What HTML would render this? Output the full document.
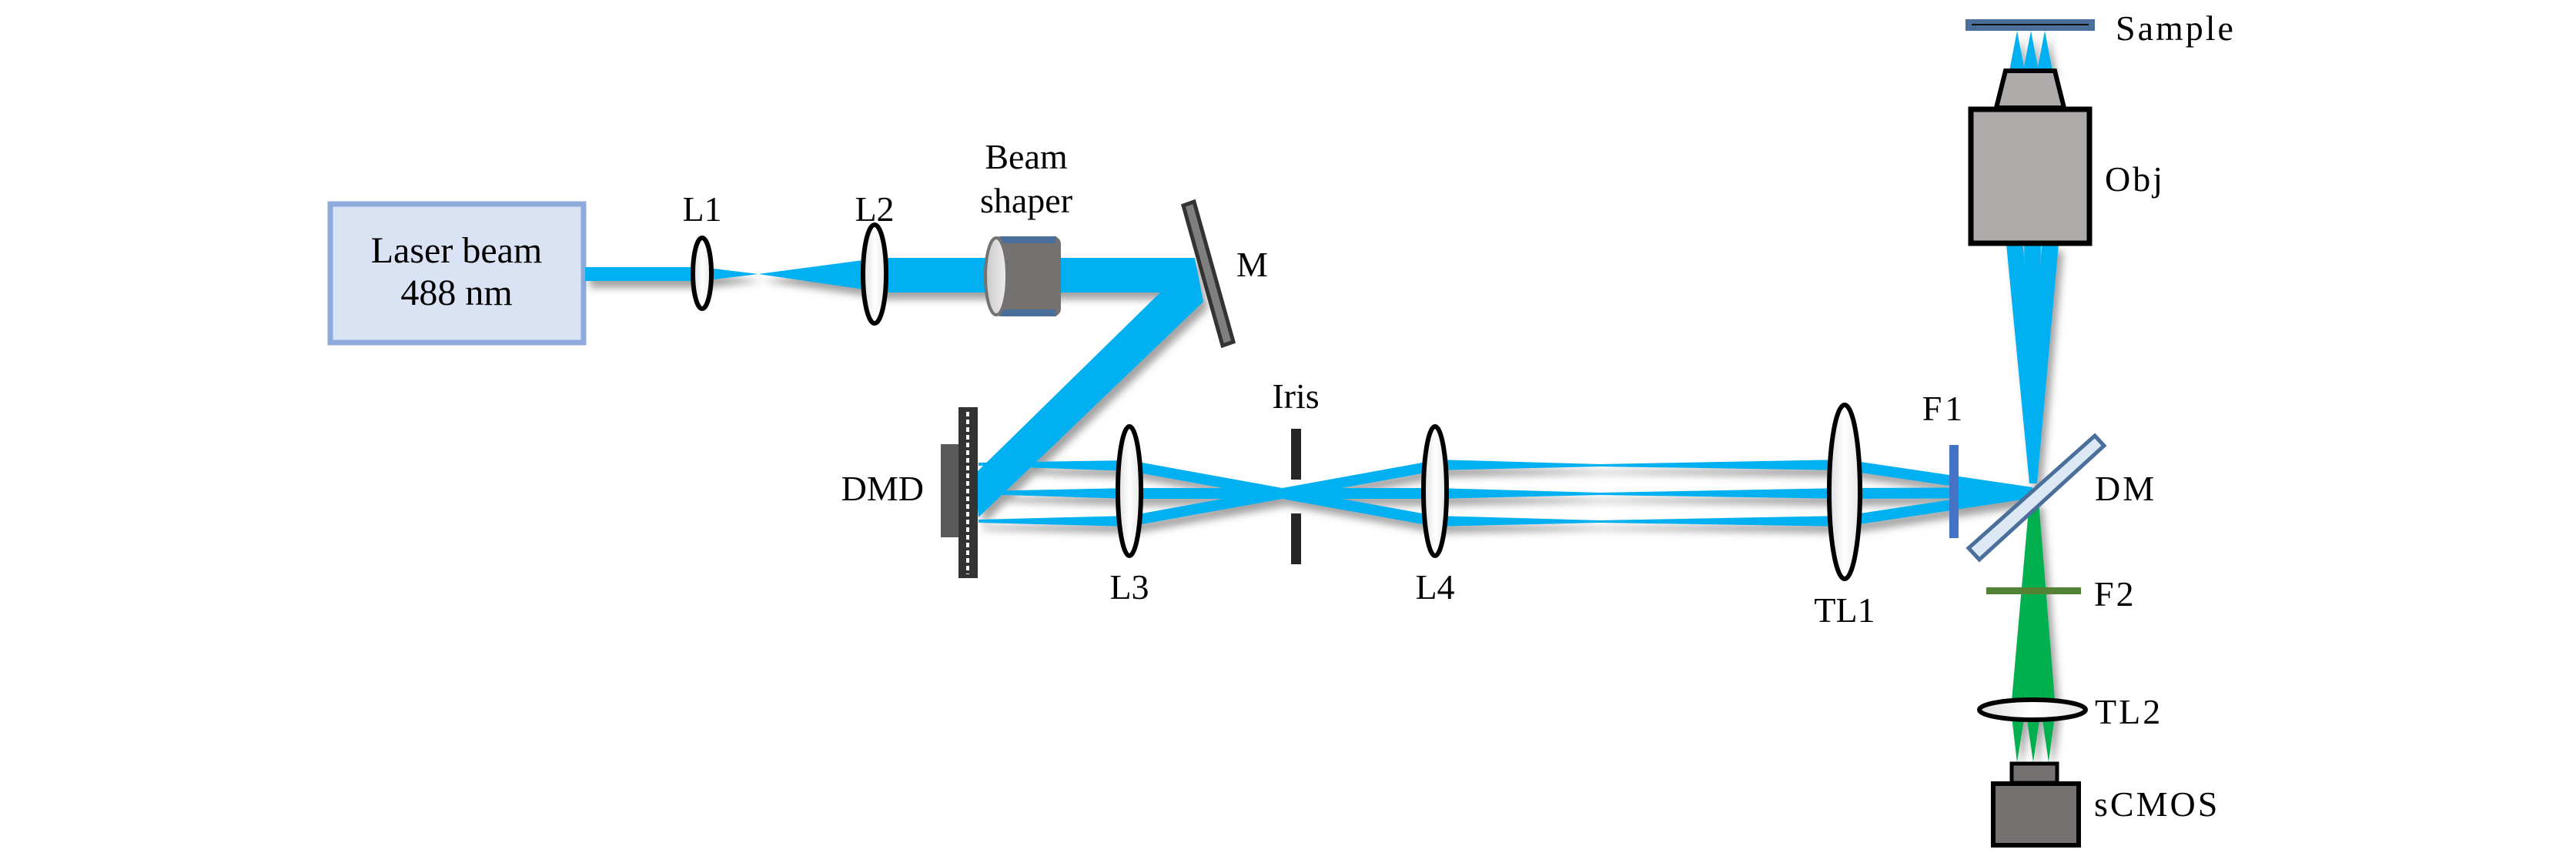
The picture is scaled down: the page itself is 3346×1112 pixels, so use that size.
<!DOCTYPE html>
<html><head><meta charset="utf-8"><style>
html,body{margin:0;padding:0;background:#fff;}
svg{display:block;}
svg text{font-family:"Liberation Serif","DejaVu Serif",serif !important;fill:#000;}
</style></head><body>
<svg width="3346" height="1112" viewBox="0 0 3346 1112" xmlns="http://www.w3.org/2000/svg" font-family="Liberation Serif, serif">
<defs>
<filter id="sh" x="-20%" y="-20%" width="140%" height="140%">
<feDropShadow dx="6" dy="9" stdDeviation="5" flood-color="#555" flood-opacity="0.55"/>
</filter>
<linearGradient id="lens" x1="0" x2="1" y1="0" y2="0">
<stop offset="0" stop-color="#ddd"/><stop offset="0.5" stop-color="#fff"/><stop offset="1" stop-color="#e6e6e6"/>
</linearGradient>
<linearGradient id="cyl" x1="0" x2="1">
<stop offset="0" stop-color="#c8c8c8"/><stop offset="1" stop-color="#eee"/>
</linearGradient>
</defs>

<rect x="429" y="265" width="329" height="180" fill="#dae3f3" stroke="#8faadc" stroke-width="7"/>
<text x="593" y="341" font-size="48" text-anchor="middle" font-family="Liberation Serif, serif">Laser beam</text>
<text x="593" y="396" font-size="48" text-anchor="middle" font-family="Liberation Serif, serif">488 nm</text>

<g fill="#00b0f0" filter="url(#sh)">
<rect x="760" y="347" width="152" height="18"/>
<polygon points="911,347 985,356 911,365"/>
<polygon points="985,356 1136,336 1136,378"/>
<rect x="1136" y="335" width="416" height="45"/>
<polygon points="1507,380 1552,335 1563,392 1271,672 1266,616"/>
<polygon points="1271,601 1467,598 1467,612 1271,605"/>
<polygon points="1271,638 1467,634 1467,648 1271,642"/>
<polygon points="1271,675 1467,670 1467,684 1271,679"/>
<polygon points="1467,598 1467,612 1864,684 1864,670"/>
<polygon points="1467,634 1467,648 1864,648 1864,634"/>
<polygon points="1467,670 1467,684 1864,612 1864,598"/>
<polygon points="1864,597 2078,603 2396,597 2396,611 2078,606 1864,611"/>
<polygon points="1864,634 2078,640 2396,634 2396,648 2078,643 1864,648"/>
<polygon points="1864,670 2078,676 2396,670 2396,684 2078,679 1864,684"/>
<polygon points="2396,597 2396,611 2640,647 2640,633"/>
<polygon points="2396,634 2396,648 2640,647 2640,633"/>
<polygon points="2396,670 2396,684 2640,647 2640,633"/>
<polygon points="2636,628 2646,628 2628,317 2606,317"/>
<polygon points="2636,628 2646,628 2651,317 2629,317"/>
<polygon points="2636,628 2646,628 2674,317 2652,317"/>
<polygon points="2620,40 2610,92 2630,92"/>
<polygon points="2638,40 2628,92 2648,92"/>
<polygon points="2656,40 2646,92 2666,92"/>
</g>
<g fill="#00b050" filter="url(#sh)">
<polygon points="2636,650 2648,650 2630,922 2612,922"/>
<polygon points="2636,650 2648,650 2651,922 2631,922"/>
<polygon points="2636,650 2648,650 2670,922 2652,922"/>
<polygon points="2612,922 2631,922 2620,990"/>
<polygon points="2631,922 2651,922 2641,990"/>
<polygon points="2651,922 2670,922 2661,990"/>
</g>

<g stroke="#000" stroke-width="6" fill="url(#lens)">
<ellipse cx="912" cy="355" rx="12" ry="46"/>
<ellipse cx="1136" cy="356" rx="15" ry="64"/>
<ellipse cx="1467" cy="638" rx="15" ry="84"/>
<ellipse cx="1864" cy="638" rx="15" ry="84"/>
<ellipse cx="2396" cy="639" rx="20" ry="113"/>
<ellipse cx="2640" cy="922" rx="69" ry="13"/>
</g>

<rect x="1290" y="307" width="88" height="104" rx="10" fill="#767171"/>
<rect x="1300" y="307" width="72" height="9" fill="#4a6f9a"/>
<rect x="1300" y="402" width="72" height="9" fill="#4a6f9a"/>
<ellipse cx="1294" cy="359" rx="14" ry="50" fill="url(#cyl)" stroke="#767171" stroke-width="4"/>
<g font-family="Liberation Serif, serif" font-size="46">
<text x="1333" y="219" text-anchor="middle">Beam</text>
<text x="1333" y="276" text-anchor="middle">shaper</text>
</g>

<polygon points="1537,267 1551,262 1602,444 1588,449" fill="#7f7f7f" stroke="#333" stroke-width="5"/>

<rect x="1222" y="577" width="24" height="121" fill="#595959"/>
<rect x="1245" y="529" width="25" height="222" fill="#333"/>
<line x1="1257" y1="535" x2="1257" y2="746" stroke="#fff" stroke-width="4" stroke-dasharray="6,4"/>

<rect x="1677" y="557" width="13" height="66" fill="#262626"/>
<rect x="1677" y="667" width="13" height="66" fill="#262626"/>

<rect x="2532" y="578" width="12" height="121" fill="#4472c4"/>
<polygon points="2557,712 2721,566 2733,579 2571,727" fill="#dde8f5" stroke="#4a6f9a" stroke-width="5"/>
<rect x="2580" y="763" width="123" height="9" fill="#548235"/>

<rect x="2613" y="992" width="59" height="25" fill="#767171" stroke="#000" stroke-width="5"/>
<rect x="2589" y="1018" width="111" height="80" fill="#767171" stroke="#000" stroke-width="6"/>

<polygon points="2605,92 2669,92 2681,140 2593,140" fill="#aeaaaa" stroke="#000" stroke-width="6"/>
<rect x="2560" y="142" width="154" height="174" fill="#aeaaaa" stroke="#000" stroke-width="7"/>

<rect x="2553" y="25" width="168" height="15" fill="#4a6f9a"/>
<line x1="2561" y1="32" x2="2713" y2="32" stroke="#111" stroke-width="2"/>

<g font-family="Liberation Serif, serif" font-size="46">
<text x="1606" y="359">M</text>
<text x="1200" y="650" text-anchor="end">DMD</text>
<text x="1683" y="530" text-anchor="middle">Iris</text>
<text x="912" y="287" text-anchor="middle">L1</text>
<text x="1136" y="287" text-anchor="middle">L2</text>
<text x="1467" y="778" text-anchor="middle">L3</text>
<text x="1864" y="778" text-anchor="middle">L4</text>
<text x="2396" y="808" text-anchor="middle">TL1</text>
<text x="2525" y="546" text-anchor="middle" letter-spacing="4">F1</text>
<text x="2721" y="650" letter-spacing="3">DM</text>
<text x="2720" y="787" letter-spacing="3">F2</text>
<text x="2721" y="940" letter-spacing="3">TL2</text>
<text x="2720" y="1060" letter-spacing="3">sCMOS</text>
<text x="2734" y="248" letter-spacing="3">Obj</text>
<text x="2748" y="52" letter-spacing="3">Sample</text>
</g>
</svg>
</body></html>
